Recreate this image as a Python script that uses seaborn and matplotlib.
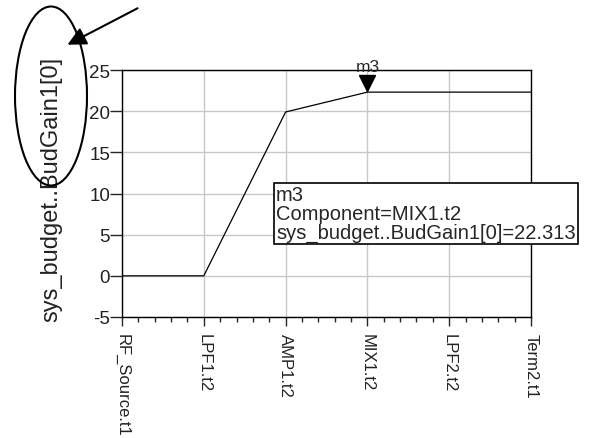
import numpy as np
import pandas as pd
import matplotlib
matplotlib.use("Agg")
import matplotlib.pyplot as plt
import seaborn as sns
from matplotlib.patches import Ellipse, FancyArrowPatch
from matplotlib.ticker import MultipleLocator
import matplotlib.transforms as mtransforms

stages = ["RF_Source.t1", "LPF1.t2", "AMP1.t2", "MIX1.t2", "LPF2.t2", "Term2.t1"]
gain = [0.0, 0.0, 19.9, 22.313, 22.313, 22.313]
y_ticks = [-5, 0, 5, 10, 15, 20, 25]
marker_name = "m3"
marker_stage = "MIX1.t2"
marker_value = 22.313

sns.set_style("white")
plt.rcParams["font.family"] = ["Liberation Sans", "DejaVu Sans"]

W, H = 593, 439
fig = plt.figure(figsize=(W / 100, H / 100), dpi=100)
ax = fig.add_axes([122 / W, 1 - 318 / H, (531 - 122) / W, (318 - 71) / H])

df = pd.DataFrame({"pos": np.arange(len(stages)), "gain": gain})
sns.lineplot(data=df, x="pos", y="gain", ax=ax, color="black", lw=0.9)

ax.set_xlim(0, len(stages) - 1)
ax.set_ylim(y_ticks[0], y_ticks[-1])
ax.set_xticks(np.arange(len(stages)))
ax.set_xticklabels(stages, rotation=-90, va="top", ha="center", fontsize=12, color="#222222")
ax.xaxis.set_minor_locator(MultipleLocator(0.2))
ax.set_yticks(y_ticks)
ax.set_yticklabels([str(v) for v in y_ticks], fontsize=13.5, color="#222222")
ax.set_xlabel("")
ax.set_ylabel("sys_budget..BudGain1[0]", fontsize=17, color="#222222", labelpad=0)
ax.yaxis.set_label_coords(-0.145, 0.52)
ax.grid(True, which="major", color="#c8c8c8", lw=1)
for s in ax.spines.values():
    s.set_color("black")
    s.set_linewidth(1)
    s.set_visible(True)
ax.tick_params(axis="y", which="major", direction="out", length=8.5, width=1, pad=0, left=True)
ax.tick_params(axis="x", which="major", direction="out", length=6.5, width=1, pad=5, bottom=True)
ax.tick_params(axis="x", which="minor", direction="out", length=3.5, width=1, bottom=True)

# marker
mi = stages.index(marker_stage)
off = mtransforms.offset_copy(ax.transData, fig=fig, x=0, y=9.5, units="dots")
ax.plot([mi], [marker_value], marker="v", color="black", markersize=12, transform=off, clip_on=False)
ax.annotate(marker_name, xy=(mi, marker_value), xytext=(0, 26), textcoords="offset pixels",
            ha="center", va="center", fontsize=12.5, annotation_clip=False)

# readout box
txt = f"{marker_name}\nComponent={marker_stage}\nsys_budget..BudGain1[0]={marker_value:.3f}"
fig.text(276 / W, 1 - 214.5 / H, txt, ha="left", va="center", fontsize=14.5, linespacing=1.0,
         bbox=dict(boxstyle="square,pad=0.1", fc="white", ec="black", lw=1.2))

# ellipse and arrow
fig.add_artist(Ellipse((51 / W, 1 - 97 / H), 72 / W, 179 / H, transform=fig.transFigure,
                       fill=False, ec="black", lw=1.5))
fig.add_artist(FancyArrowPatch(posA=(140 / W, 1 - 8 / H), posB=(65 / W, 1 - 47 / H),
                               transform=fig.transFigure, arrowstyle="-|>", mutation_scale=28,
                               color="black", lw=1.5))

fig.savefig("out.png", dpi=100)
